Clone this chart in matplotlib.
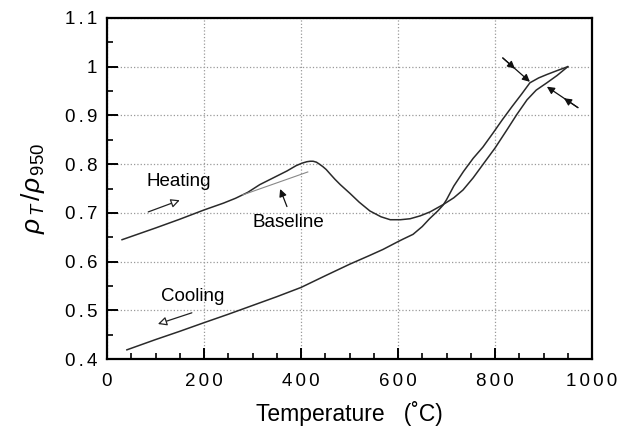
import numpy as np
import matplotlib
matplotlib.use('Agg')
import matplotlib.pyplot as plt
from matplotlib.ticker import MultipleLocator, FuncFormatter

plt.rcParams['font.family'] = ['Liberation Sans', 'DejaVu Sans']
plt.rcParams['mathtext.fontset'] = 'custom'
plt.rcParams['mathtext.rm'] = 'Liberation Sans'
plt.rcParams['mathtext.it'] = 'Liberation Sans:italic'

# ---- datos ----
heat_T = [31, 100, 150, 200, 240, 265, 290, 315, 345, 371, 390, 402, 412, 419,
          425, 432, 438, 445, 452, 460, 470, 481, 501, 520, 542, 565, 584, 605,
          625, 646, 666, 693, 715, 734, 755, 780, 800, 825, 845, 866, 885, 907,
          928, 950]
heat_v = [0.645, 0.669, 0.687, 0.706, 0.720, 0.730, 0.742, 0.758, 0.773, 0.786,
          0.797, 0.802, 0.805, 0.806, 0.806, 0.804, 0.800, 0.795, 0.789, 0.780,
          0.769, 0.758, 0.740, 0.722, 0.704, 0.692, 0.686, 0.686, 0.688, 0.694,
          0.702, 0.717, 0.731, 0.747, 0.772, 0.806, 0.833, 0.871, 0.902, 0.932,
          0.952, 0.967, 0.982, 1.0]

cool_T = [950, 928, 907, 890, 872, 855, 835, 815, 796, 775, 755, 735, 715, 700,
          693, 682, 665, 650, 631, 610, 598, 569, 540, 501, 450, 400, 350, 300,
          250, 198, 150, 100, 41]
cool_v = [1.0, 0.992, 0.984, 0.977, 0.967, 0.944, 0.918, 0.891, 0.864, 0.835,
          0.812, 0.785, 0.755, 0.727, 0.716, 0.704, 0.688, 0.672, 0.656, 0.646,
          0.640, 0.625, 0.612, 0.595, 0.571, 0.547, 0.528, 0.510, 0.492, 0.474,
          0.457, 0.440, 0.419]

base_T = [280, 414]
base_v = [0.737, 0.784]

fig = plt.figure(figsize=(6.25, 4.28), dpi=100)
ax = fig.add_axes([0.1712, 0.161, 0.776, 0.797])

ax.plot(heat_T, heat_v, color='#2a2a2a', lw=1.1)
ax.plot(cool_T, cool_v, color='#2a2a2a', lw=1.1)
ax.plot(base_T, base_v, color='#888888', lw=0.8)

ax.set_xlim(0, 1000)
ax.set_ylim(0.4, 1.1)
ax.xaxis.set_major_locator(MultipleLocator(200))
ax.xaxis.set_minor_locator(MultipleLocator(50))
ax.yaxis.set_major_locator(MultipleLocator(0.1))
ax.yaxis.set_minor_locator(MultipleLocator(0.05))

# etiquetas con algo de espaciado entre caracteres, como en el original
spaced = lambda s: '\u2006'.join(s)
ax.xaxis.set_major_formatter(FuncFormatter(lambda v, p: spaced(f'{v:g}')))
ax.yaxis.set_major_formatter(FuncFormatter(lambda v, p: spaced(f'{v:g}')))
ax.tick_params(which='major', direction='in', length=8, width=1.4,
               labelsize=13.5)
ax.tick_params(axis='y', which='major', pad=7)
ax.tick_params(axis='x', which='major', pad=10)
ax.tick_params(which='minor', direction='in', length=4.5, width=1.2)
ax.grid(True, which='major', color='#999999', ls=':', lw=0.9)
for s in ax.spines.values():
    s.set_linewidth(1.6)

ax.set_xlabel('Temperature   (˚C)', fontsize=16.5, labelpad=8)
ax.set_ylabel(r'$\rho_{\,T}\,/\rho_{\,950}$', fontsize=19, labelpad=13)

# ---- textos y flechas ----
ax.text(147, 0.764, 'Heating', fontsize=13.5, ha='center', va='center')
ax.text(373, 0.680, 'Baseline', fontsize=13.5, ha='center', va='center')
ax.text(177, 0.528, 'Cooling', fontsize=13.5, ha='center', va='center')

hollow = dict(arrowstyle='-|>', fc='white', ec='#222222', lw=0.9,
              mutation_scale=13, shrinkA=0, shrinkB=0)
ax.annotate('', xy=(150, 0.726), xytext=(85, 0.702), arrowprops=hollow)
ax.annotate('', xy=(105, 0.472), xytext=(175, 0.495), arrowprops=hollow)

solid = dict(arrowstyle='-|>', fc='#111111', ec='#111111', lw=0.9,
             mutation_scale=11, shrinkA=0, shrinkB=0)
ax.annotate('', xy=(357, 0.749), xytext=(371, 0.713), arrowprops=solid)

# flechas dobles en el extremo superior
for (x0, y0), (x1, y1) in [((816, 1.018), (872, 0.969)),
                           ((971, 0.916), (907, 0.959))]:
    ax.annotate('', xy=(x1, y1), xytext=(x0, y0), arrowprops=solid)
    xm, ym = x0 + 0.45 * (x1 - x0), y0 + 0.45 * (y1 - y0)
    ax.annotate('', xy=(xm, ym), xytext=(x0, y0), arrowprops=solid)

fig.savefig('out.png', dpi=100)
